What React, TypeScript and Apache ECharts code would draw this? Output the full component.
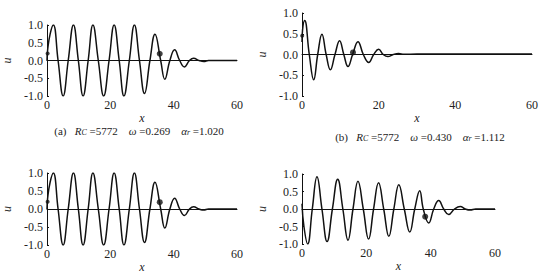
import React, { useEffect, useRef } from "react";
import * as echarts from "echarts";

// x ticks and y ticks
const xTicks = [0, 20, 40, 60];
const yTicks = [-1, -0.5, 0, 0.5, 1];

// Panel (a) and (c): Rc=5772, omega=0.269
const waveAX = [0, 0.2, 1.0, 2.0, 3.5, 5.1, 6.7, 8.35, 9.9, 11.4, 13.0, 14.5, 16.2, 17.9, 19.6, 21.2, 22.8, 24.3, 26.0, 27.6, 29.2, 30.8, 32.5, 34.1, 35.9, 37.2, 38.8, 40.3, 41.9, 43.4, 45.0, 46.3, 48.0, 49.5, 51.0, 60];
const waveAU = [0, 0.3, 0.75, 1, 0, -1, 0, 1, 0, -1, 0, 1, 0, -1, 0, 1, 0, -1, 0, 1, 0, -0.93, 0, 0.74, 0, -0.53, 0, 0.3, 0, -0.18, 0, 0.06, 0, -0.03, 0, 0];
const startDotAX = [0.2];
const startDotAU = [0.2];
const dotAX = [35.6];
const dotAU = [0.19];

// Panel (b): omega=0.430
const waveBX = [0, 0.15, 0.7, 1.9, 3.05, 4.1, 5.2, 6.3, 7.4, 8.6, 9.8, 10.9, 12.0, 13.2, 14.6, 16.0, 17.4, 18.7, 20.0, 21.2, 22.4, 23.8, 25.2, 26.6, 30, 60];
const waveBU = [0.3, 0.6, 0.82, 0, -0.61, 0, 0.49, 0, -0.37, 0, 0.33, 0, -0.29, 0, 0.31, 0, -0.19, 0, 0.125, 0, -0.05, 0, 0.025, 0.005, 0.01, 0.01];
const startDotBX = [0.05];
const startDotBU = [0.45];
const dotBX = [13.3];
const dotBU = [0.05];

// Panel (d)
const waveDX = [0, 0.6, 1.75, 3.2, 4.66, 6.2, 7.8, 9.45, 11.1, 12.7, 14.3, 15.85, 17.4, 19.05, 20.7, 22.25, 23.8, 25.4, 27.0, 28.55, 30.1, 31.8, 33.5, 35.05, 36.6, 37.7, 39.4, 40.95, 42.5, 44.05, 45.6, 47.4, 49.2, 50.75, 52.3, 54, 60];
const waveDU = [0.15, -0.5, -1, 0, 0.92, 0, -0.93, 0, 0.85, 0, -0.89, 0, 0.79, 0, -0.86, 0, 0.75, 0, -0.78, 0, 0.69, 0, -0.66, 0, 0.52, 0, -0.4, 0, 0.24, 0, -0.16, 0, 0.07, 0, -0.03, 0, 0];
const startDotDX: number[] = [];
const startDotDU: number[] = [];
const dotDX = [38.3];
const dotDU = [-0.22];

const zip = (xs: number[], ys: number[]) => xs.map((x, i) => [x, ys[i]]);

const SERIF = "'Liberation Serif', 'DejaVu Serif', serif";

export default function App() {
  const ref = useRef<HTMLDivElement>(null);
  useEffect(() => {
    document.body.style.margin = "0";
    const chart = echarts.init(ref.current!, undefined, { renderer: "svg" });
    const grids = [
      { left: 43, top: 25, width: 194, height: 71 },
      { left: 302, top: 13, width: 230, height: 83 },
      { left: 43, top: 173, width: 194, height: 72 },
      { left: 302, top: 174, width: 193, height: 70 },
    ];
    const nameGaps = [13, 12, 15, 16];
    const xAxis = grids.map((_, i) => ({
      type: "value",
      gridIndex: i,
      min: xTicks[0],
      max: xTicks[xTicks.length - 1],
      interval: xTicks[1] - xTicks[0],
      name: "x",
      nameLocation: "middle",
      nameGap: nameGaps[i],
      nameTextStyle: { fontFamily: SERIF, fontStyle: "italic", fontSize: 12, color: "#222" },
      axisLine: { lineStyle: { color: "#111", width: 1 } },
      axisTick: { show: false },
      axisLabel: { fontFamily: SERIF, fontSize: 12, color: "#222", margin: 3 },
      splitLine: { show: false },
    }));
    const yAxis = grids.map((_, i) => ({
      type: "value",
      gridIndex: i,
      min: yTicks[0],
      max: yTicks[yTicks.length - 1],
      interval: yTicks[1] - yTicks[0],
      name: "u",
      nameLocation: "middle",
      nameGap: 34,
      nameRotate: 90,
      nameTextStyle: { fontFamily: SERIF, fontStyle: "italic", fontSize: 12, color: "#333" },
      axisLine: { show: true, lineStyle: { color: "#111", width: 1 } },
      axisTick: { show: true, inside: true, length: 2, lineStyle: { color: "#111" } },
      axisLabel: {
        fontFamily: SERIF,
        fontSize: 12,
        color: "#222",
        margin: 4,
        formatter: (v: number) => v.toFixed(1),
      },
      splitLine: { show: false },
    }));
    const waves = [
      zip(waveAX, waveAU),
      zip(waveBX, waveBU),
      zip(waveAX, waveAU),
      zip(waveDX, waveDU),
    ];
    const startDots = [
      zip(startDotAX, startDotAU),
      zip(startDotBX, startDotBU),
      zip(startDotAX, startDotAU),
      zip(startDotDX, startDotDU),
    ];
    const dots = [
      zip(dotAX, dotAU),
      zip(dotBX, dotBU),
      zip(dotAX, dotAU),
      zip(dotDX, dotDU),
    ];
    const series: any[] = [];
    waves.forEach((d, i) => {
      series.push({
        type: "line",
        xAxisIndex: i,
        yAxisIndex: i,
        data: d,
        smooth: 0.45,
        showSymbol: false,
        lineStyle: { color: "#111", width: 1.5 },
        clip: true,
      });
      series.push({
        type: "scatter",
        xAxisIndex: i,
        yAxisIndex: i,
        data: startDots[i],
        symbolSize: 4,
        itemStyle: { color: "#111" },
      });
      series.push({
        type: "scatter",
        xAxisIndex: i,
        yAxisIndex: i,
        data: dots[i],
        symbolSize: 6,
        itemStyle: { color: "#111" },
      });
    });
    const rich = {
      i: { fontFamily: SERIF, fontStyle: "italic", fontSize: 11, color: "#222" },
      s: { fontFamily: SERIF, fontStyle: "italic", fontSize: 8, color: "#222", verticalAlign: "bottom" },
    };
    chart.setOption({
      animation: false,
      backgroundColor: "#fff",
      grid: grids,
      xAxis,
      yAxis,
      series,
      graphic: [
        {
          type: "text",
          x: 139,
          y: 131,
          style: {
            text: "(a)   {i|R}{s|C} =5772    {i|ω} =0.269    {i|α}{s|r} =1.020",
            rich,
            fontFamily: SERIF,
            fontSize: 11,
            fill: "#222",
            align: "center",
            verticalAlign: "middle",
          },
        },
        {
          type: "text",
          x: 420,
          y: 137,
          style: {
            text: "(b)   {i|R}{s|C} =5772    {i|ω} =0.430    {i|α}{s|r} =1.112",
            rich,
            fontFamily: SERIF,
            fontSize: 11,
            fill: "#222",
            align: "center",
            verticalAlign: "middle",
          },
        },
      ],
    });
    return () => chart.dispose();
  }, []);
  return <div ref={ref} style={{ width: 544, height: 279 }} />;
}
